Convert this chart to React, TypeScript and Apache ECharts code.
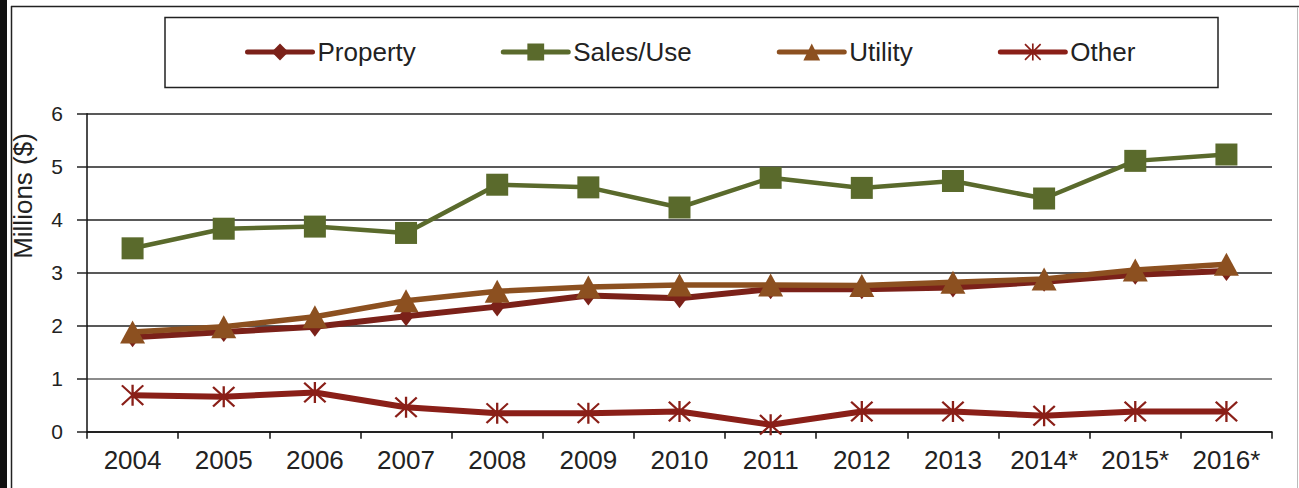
import React, { useEffect, useRef } from "react";
import * as echarts from "echarts";

const years = ["2004", "2005", "2006", "2007", "2008", "2009", "2010", "2011", "2012", "2013", "2014*", "2015*", "2016*"];
const property = [1.78, 1.88, 1.98, 2.18, 2.36, 2.57, 2.52, 2.69, 2.69, 2.72, 2.83, 2.96, 3.03];
const salesUse = [3.46, 3.83, 3.87, 3.75, 4.66, 4.61, 4.23, 4.79, 4.6, 4.73, 4.4, 5.11, 5.23];
const utility = [1.88, 1.98, 2.17, 2.47, 2.65, 2.73, 2.77, 2.77, 2.76, 2.82, 2.88, 3.05, 3.16];
const other = [0.69, 0.66, 0.74, 0.46, 0.35, 0.35, 0.38, 0.13, 0.38, 0.38, 0.3, 0.38, 0.38];
const yTicks = [0, 1, 2, 3, 4, 5, 6];

const FONT = "'Liberation Sans', Arial, sans-serif";
const C_PROP = "#7B2119";
const C_SALES = "#5A6A2C";
const C_UTIL = "#8C5020";
const C_OTHER = "#8A1F18";

const ASTERISK =
  "path://M45,0 L55,0 L55,100 L45,100 Z M0,7 L7,0 L100,93 L93,100 Z M93,0 L100,7 L7,100 L0,93 Z";

export default function App() {
  const ref = useRef<HTMLDivElement>(null);
  useEffect(() => {
    if (!ref.current) return;
    const chart = echarts.init(ref.current, null, { renderer: "svg" });
    chart.setOption({
      animation: false,
      backgroundColor: "#ffffff",
      textStyle: { fontFamily: FONT },
      grid: { left: 87, right: 27, top: 113.7, bottom: 56.3, containLabel: false },
      legend: {
        left: 240,
        top: 34,
        itemWidth: 65,
        itemHeight: 21,
        itemGap: 85,
        lineStyle: { width: 5, cap: "round" },
        textStyle: { fontSize: 26, color: "#222", fontFamily: FONT, lineHeight: 26 },
        data: ["Property", "Sales/Use", "Utility", "Other"],
      },
      xAxis: {
        type: "category",
        data: years,
        boundaryGap: true,
        axisLine: { lineStyle: { color: "#111", width: 1.5 } },
        axisTick: { show: true, length: 7, lineStyle: { color: "#111", width: 1.5 } },
        axisLabel: { fontSize: 26, color: "#222", margin: 15, fontFamily: FONT, interval: 0 },
        splitLine: { show: false },
      },
      yAxis: {
        type: "value",
        min: yTicks[0],
        max: yTicks[yTicks.length - 1],
        interval: 1,
        axisLine: { show: true, lineStyle: { color: "#111", width: 1.5 } },
        axisTick: { show: true, length: 10, lineStyle: { color: "#222", width: 1.5 } },
        axisLabel: { fontSize: 21, color: "#222", margin: 24, fontFamily: FONT },
        splitLine: {
          show: true,
          lineStyle: { color: ["#222", "#666", "#222", "#222", "#222", "#222", "#222"], width: 1.5 },
        },
      },
      graphic: [
        { type: "rect", shape: { x: 0, y: 0, width: 7, height: 488 }, style: { fill: "#111" } },
        { type: "line", shape: { x1: 11.5, y1: 6, x2: 11.5, y2: 488 }, style: { stroke: "#222", lineWidth: 1.5 } },
        { type: "line", shape: { x1: 11, y1: 6.5, x2: 1299, y2: 6.5 }, style: { stroke: "#222", lineWidth: 1.5 } },
        { type: "line", shape: { x1: 1297.5, y1: 7, x2: 1297.5, y2: 488 }, style: { stroke: "#bbb", lineWidth: 1 } },
        {
          type: "rect",
          shape: { x: 165, y: 17.5, width: 1053, height: 70 },
          style: { fill: "none", stroke: "#222", lineWidth: 1.5 },
        },
        {
          type: "text",
          x: 23,
          y: 196,
          rotation: Math.PI / 2,
          style: {
            text: "Millions ($)",
            fontSize: 26,
            fontFamily: FONT,
            fill: "#222",
            align: "center",
            verticalAlign: "middle",
          },
        },
      ],
      series: [
        {
          name: "Property",
          type: "line",
          data: property,
          symbol: "diamond",
          symbolSize: [15, 20],
          lineStyle: { color: C_PROP, width: 6 },
          itemStyle: { color: C_PROP },
          z: 2,
        },
        {
          name: "Sales/Use",
          type: "line",
          data: salesUse,
          symbol: "rect",
          symbolSize: 22,
          lineStyle: { color: C_SALES, width: 4.5 },
          itemStyle: { color: C_SALES },
          z: 3,
        },
        {
          name: "Utility",
          type: "line",
          data: utility,
          symbol: "triangle",
          symbolSize: [25, 23],
          lineStyle: { color: C_UTIL, width: 5.5 },
          itemStyle: { color: C_UTIL },
          z: 4,
        },
        {
          name: "Other",
          type: "line",
          data: other,
          symbol: ASTERISK,
          symbolSize: [23, 21],
          lineStyle: { color: C_OTHER, width: 6 },
          itemStyle: { color: C_OTHER },
          z: 5,
        },
      ],
    });
    return () => chart.dispose();
  }, []);
  return (
    <div
      ref={ref}
      style={{ position: "absolute", left: 0, top: 0, width: 1299, height: 488, background: "#fff" }}
    />
  );
}
